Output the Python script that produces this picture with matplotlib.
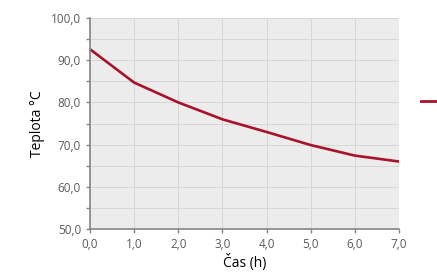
import matplotlib
matplotlib.use("Agg")
import matplotlib.pyplot as plt
from matplotlib.ticker import MultipleLocator, FuncFormatter
from matplotlib.lines import Line2D

# data
hours = [0, 1, 2, 3, 4, 5, 6, 7]
temps = [92.6, 84.7, 80.0, 76.0, 73.0, 69.9, 67.4, 66.0]

plt.rcParams['font.family'] = ['Open Sans', 'DejaVu Sans']

fig = plt.figure(figsize=(4.37, 2.73), dpi=100)
ax = fig.add_axes([0.206, 0.161, 0.707, 0.773])

ax.set_facecolor('#ececec')
ax.plot(hours, temps, color='#a8122a', lw=1.9, solid_capstyle='round',
        solid_joinstyle='round')

ax.set_xlim(0, 7)
ax.set_ylim(50, 100)
ax.xaxis.set_major_locator(MultipleLocator(1))
ax.yaxis.set_major_locator(MultipleLocator(10))
ax.yaxis.set_minor_locator(MultipleLocator(5))
fmt = FuncFormatter(lambda v, p: f"{v:.1f}".replace('.', ','))
ax.xaxis.set_major_formatter(fmt)
ax.yaxis.set_major_formatter(fmt)

ax.grid(True, which='both', color='#d6d6d6', lw=0.7)
ax.set_axisbelow(True)
for s in ['top', 'right']:
    ax.spines[s].set_visible(False)
for s in ['left', 'bottom']:
    ax.spines[s].set_color('#858585')
    ax.spines[s].set_linewidth(1.2)
ax.tick_params(which='both', colors='#858585', labelcolor='#5a5a5a',
               labelsize=8.5, length=3, width=1)

ax.set_xlabel('Čas (h)', fontsize=10, labelpad=2)
ax.set_ylabel('Teplota °C', fontsize=10, labelpad=4)

fig.legend([Line2D([], [], color='#a8122a', lw=2)], [''],
           loc='center left', bbox_to_anchor=(0.935, 0.625),
           frameon=False, handlelength=1.2, handletextpad=0)

fig.savefig('out.png', dpi=100)
